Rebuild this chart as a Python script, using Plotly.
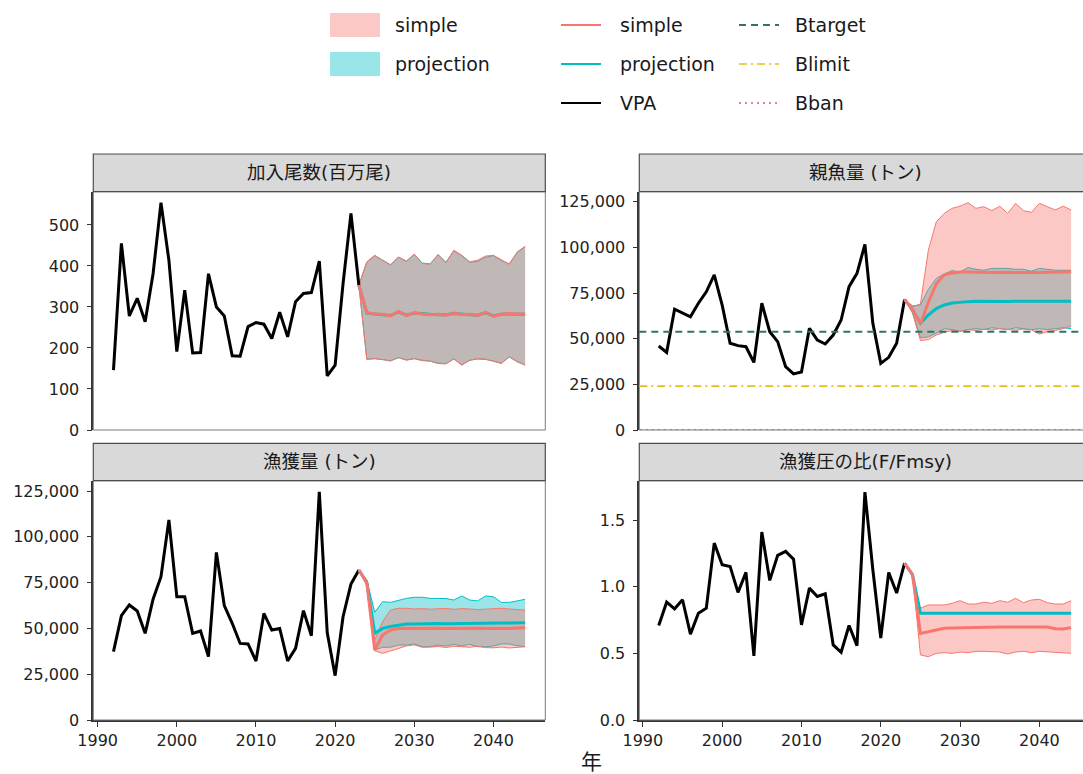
import plotly.graph_objects as go

# ---------------- data ----------------
YEARS_VPA = list(range(1992, 2024))
YEARS_PROJ = list(range(2023, 2045))

REC_VPA = [146, 455, 278, 321, 264, 381, 554, 414, 191, 341, 188, 189, 381, 300, 278, 181,
           180, 252, 262, 258, 223, 287, 227, 313, 333, 335, 412, 132, 158, 357, 528, 353]
REC_SIMPLE_MED = [353, 286, 283, 282, 278, 289, 279, 286, 283, 281, 282, 280, 285, 281, 282, 279,
                  287, 277, 282, 284, 283, 283]
REC_SIMPLE_UP = [353, 410, 426, 414, 402, 422, 412, 429, 406, 404, 428, 408, 438, 426, 410, 414,
                 424, 426, 414, 404, 434, 448]
REC_SIMPLE_LO = [353, 172, 174, 172, 168, 177, 170, 174, 169, 168, 162, 161, 174, 158, 170, 174,
                 173, 167, 162, 179, 166, 158]
REC_PROJ_MED = [353, 285, 283, 281, 279, 288, 280, 285, 283, 282, 281, 281, 284, 282, 281, 280,
                286, 278, 282, 283, 283, 282]
REC_PROJ_UP = [353, 409, 425, 413, 403, 421, 411, 428, 407, 405, 427, 409, 437, 425, 409, 411,
               421, 425, 413, 405, 433, 447]
REC_PROJ_LO = [353, 173, 174, 172, 169, 176, 171, 174, 170, 168, 163, 162, 173, 159, 170, 173,
               172, 168, 163, 178, 167, 159]

SSB_VPA = [46000, 42500, 66200, 64200, 62000, 69400, 75700, 84900, 68400, 47500, 46200, 45600,
           37000, 69400, 53800, 48400, 34700, 30700, 31800, 55700, 49300, 47100, 52000, 60200,
           78500, 85800, 101700, 58400, 36500, 39800, 47500, 71500]
SSB_SIMPLE_MED = [71500, 66000, 58000, 70000, 80000, 85000, 86000, 86500, 86500, 86300, 86500,
                  86200, 86400, 86300, 86500, 86400, 86300, 86200, 86400, 86300, 86500, 86700]
SSB_SIMPLE_UP = [71500, 67500, 69000, 98500, 114000, 118600, 121400, 122600, 124500, 121400,
                 122300, 120100, 122600, 118600, 124100, 120100, 119200, 124100, 122300, 120500,
                 122600, 120500]
SSB_SIMPLE_LO = [71500, 64000, 49000, 49500, 52000, 53500, 54500, 54000, 55000, 54500, 55200,
                 54800, 55500, 55000, 54600, 55300, 54800, 52500, 53800, 54500, 55500, 57000]
SSB_PROJ_MED = [71500, 66000, 58500, 63000, 66500, 68500, 69500, 70000, 70300, 70500, 70400,
                70500, 70600, 70400, 70500, 70500, 70300, 70200, 70500, 70300, 70400, 70500]
SSB_PROJ_UP = [71500, 68000, 68500, 77000, 83000, 85500, 87300, 86500, 89000, 88000, 87500,
               88500, 88500, 88500, 88000, 88000, 87000, 88500, 88000, 87500, 87500, 87500]
SSB_PROJ_LO = [71500, 64500, 50500, 51000, 53000, 55500, 55000, 54000, 55000, 55500, 55000,
               56000, 55500, 55000, 56000, 55500, 55000, 55500, 55000, 55500, 56000, 55500]

CATCH_VPA = [37300, 57000, 62800, 59500, 47300, 65900, 78200, 109200, 67300, 67300, 47300, 48600,
             34600, 91500, 62400, 52800, 41800, 41500, 32200, 58200, 49100, 50000, 32200, 39100,
             59700, 46000, 124600, 47700, 24200, 56400, 74200, 81900]
CATCH_SIMPLE_MED = [81900, 75000, 38200, 46400, 49100, 49900, 50000, 50100, 50000, 50200, 50100,
                    50000, 50100, 50200, 50000, 50100, 50000, 49900, 50000, 49900, 50200, 50400]
CATCH_SIMPLE_UP = [81900, 76500, 43700, 53700, 60000, 61000, 61000, 60600, 60800, 60500, 60700,
                   60900, 60400, 60800, 60600, 60300, 60500, 60700, 61000, 60600, 60400, 60000]
CATCH_SIMPLE_LO = [81900, 73500, 37800, 36400, 37700, 39100, 40400, 41000, 39700, 39800, 40100,
                   39600, 40200, 40000, 39700, 40300, 39500, 39400, 39800, 39300, 39600, 40000]
CATCH_PROJ_MED = [81900, 75000, 47300, 50000, 51000, 51900, 52400, 52400, 52600, 52500, 52700,
                  52600, 52700, 52500, 52800, 52600, 52700, 52800, 52900, 52900, 53000, 53100]
CATCH_PROJ_UP = [81900, 76500, 58800, 64600, 64200, 65500, 66400, 67000, 67000, 66400, 66300,
                 66300, 65500, 67700, 65500, 65000, 67700, 67300, 64200, 64200, 65000, 65900]
CATCH_PROJ_LO = [81900, 73500, 38200, 39700, 39700, 40900, 40900, 41500, 40000, 40000, 40900,
                 40400, 41300, 40400, 41300, 40000, 40000, 40400, 41500, 41500, 40600, 40000]

F_VPA = [0.709, 0.884, 0.834, 0.902, 0.644, 0.801, 0.839, 1.327, 1.165, 1.152, 0.957, 1.107,
         0.481, 1.41, 1.047, 1.235, 1.265, 1.207, 0.714, 0.989, 0.927, 0.947, 0.563, 0.508,
         0.709, 0.558, 1.71, 1.127, 0.614, 1.107, 0.952, 1.177]
F_SIMPLE_MED = [1.177, 1.09, 0.650, 0.663, 0.680, 0.688, 0.690, 0.692, 0.693, 0.695, 0.695,
                0.696, 0.697, 0.697, 0.697, 0.698, 0.699, 0.700, 0.698, 0.685, 0.683, 0.693]
F_SIMPLE_UP = [1.177, 1.09, 0.838, 0.863, 0.863, 0.863, 0.875, 0.895, 0.870, 0.870, 0.883,
               0.875, 0.895, 0.883, 0.913, 0.880, 0.900, 0.905, 0.880, 0.870, 0.870, 0.895]
F_SIMPLE_LO = [1.177, 1.09, 0.488, 0.475, 0.500, 0.505, 0.500, 0.510, 0.505, 0.515, 0.515,
               0.515, 0.510, 0.495, 0.510, 0.515, 0.505, 0.515, 0.510, 0.505, 0.500, 0.500]
F_PROJ_MED = [1.177, 1.09, 0.80, 0.80, 0.80, 0.80, 0.80, 0.80, 0.80, 0.80, 0.80,
              0.80, 0.80, 0.80, 0.80, 0.80, 0.80, 0.80, 0.80, 0.80, 0.80, 0.80]
F_PROJ_UP = F_PROJ_MED
F_PROJ_LO = F_PROJ_MED

BTARGET = 53800
BLIMIT = 24000
BBAN = 0

PANEL_TITLES = ["加入尾数(百万尾)", "親魚量 (トン)", "漁獲量 (トン)", "漁獲圧の比(F/Fmsy)"]
X_TICKS = [1990, 2000, 2010, 2020, 2030, 2040]
X_LABEL = "年"
FILL_LEGEND = ["simple", "projection"]
LINE_LEGEND = ["simple", "projection", "VPA"]
REF_LEGEND = ["Btarget", "Blimit", "Bban"]

# ---------------- styling ----------------
W, H = 1083, 774
PINK = "#F8766D"
TEAL = "#00BFC4"
PINK_FILL = "rgba(248,118,109,0.4)"
TEAL_FILL = "rgba(0,191,196,0.4)"
BT_COL = "#2F7565"
BL_COL = "#E2C11C"
BB_COL = "#D9606F"
FONT = "DejaVu Sans, Noto Sans CJK JP, sans-serif"


def px(x):
    return x / W


def py(y):
    return 1 - y / H


LEFT = (93.3, 545.3)
RIGHT = (639.3, 1091.3)
TOP = (191.7, 430.0, 154.0)      # plot top, plot bottom, strip top
BOT = (480.7, 720.0, 443.3)

panels = [
    dict(ax="", cols=LEFT, rows=TOP, xr=[1989.45, 2046.55], yr=[0, 581], dtick=100, fmt="d",
         data=(REC_VPA, REC_SIMPLE_MED, REC_SIMPLE_UP, REC_SIMPLE_LO, REC_PROJ_MED, REC_PROJ_UP, REC_PROJ_LO),
         xlabels=False),
    dict(ax="2", cols=RIGHT, rows=TOP, xr=[1989.55, 2045.5], yr=[0, 130500], dtick=25000, fmt=",",
         data=(SSB_VPA, SSB_SIMPLE_MED, SSB_SIMPLE_UP, SSB_SIMPLE_LO, SSB_PROJ_MED, SSB_PROJ_UP, SSB_PROJ_LO),
         xlabels=False),
    dict(ax="3", cols=LEFT, rows=BOT, xr=[1989.45, 2046.55], yr=[0, 130630], dtick=25000, fmt=",",
         data=(CATCH_VPA, CATCH_SIMPLE_MED, CATCH_SIMPLE_UP, CATCH_SIMPLE_LO, CATCH_PROJ_MED, CATCH_PROJ_UP, CATCH_PROJ_LO),
         xlabels=True),
    dict(ax="4", cols=RIGHT, rows=BOT, xr=[1989.55, 2045.5], yr=[0, 1.795], dtick=0.5, fmt=".1f",
         data=(F_VPA, F_SIMPLE_MED, F_SIMPLE_UP, F_SIMPLE_LO, F_PROJ_MED, F_PROJ_UP, F_PROJ_LO),
         xlabels=True),
]

fig = go.Figure()
shapes = []
annotations = []

for i, p in enumerate(panels):
    xa = "x" + p["ax"]
    ya = "y" + p["ax"]
    vpa, s_med, s_up, s_lo, p_med, p_up, p_lo = p["data"]

    def add(y, **kw):
        fig.add_trace(go.Scatter(x=kw.pop("x", YEARS_PROJ), y=y, xaxis=xa, yaxis=ya,
                                 mode="lines", showlegend=False, hoverinfo="skip", **kw))

    # projection band (drawn first, under the simple band)
    add(p_up, line=dict(color=TEAL, width=1))
    add(p_lo, line=dict(color=TEAL, width=1), fill="tonexty", fillcolor=TEAL_FILL)
    # simple band
    add(s_up, line=dict(color=PINK, width=1))
    add(s_lo, line=dict(color=PINK, width=1), fill="tonexty", fillcolor=PINK_FILL)
    # VPA
    add(vpa, x=YEARS_VPA, line=dict(color="black", width=3))
    # medians
    add(p_med, line=dict(color=TEAL, width=3))
    add(s_med, line=dict(color=PINK, width=3))

    x0, x1 = p["cols"]
    ytop, ybot, stop = p["rows"]
    layout_x = dict(domain=[px(x0), min(1.0, px(x1))], range=p["xr"], anchor=ya,
                    tickvals=X_TICKS, showgrid=False, zeroline=False, automargin=False,
                    showticklabels=p["xlabels"], ticks="outside" if p["xlabels"] else "",
                    ticklen=5, tickwidth=1.3, tickcolor="#333",
                    showline=p["xlabels"], linecolor="#333", linewidth=1.6,
                    tickfont=dict(family=FONT, size=16, color="#222"))
    layout_y = dict(domain=[py(ybot), py(ytop)], range=p["yr"], anchor=xa, dtick=p["dtick"],
                    tick0=0, tickformat=p["fmt"], showgrid=False, zeroline=False, automargin=False,
                    ticks="outside", ticklen=5, tickwidth=1.3, tickcolor="#333",
                    showline=True, linecolor="#333", linewidth=1.6,
                    ticklabelstandoff=4,
                    tickfont=dict(family=FONT, size=16, color="#222"))
    fig.update_layout(**{"xaxis" + p["ax"]: layout_x, "yaxis" + p["ax"]: layout_y})

    # panel border
    shapes.append(dict(type="rect", xref="paper", yref="paper", x0=px(x0), x1=px(x1),
                       y0=py(ybot), y1=py(ytop), line=dict(color="#7A7A7A", width=1),
                       fillcolor="rgba(0,0,0,0)", layer="above"))
    # strip
    shapes.append(dict(type="rect", xref="paper", yref="paper", x0=px(x0), x1=px(x1),
                       y0=py(ytop), y1=py(stop), line=dict(color="#4D4D4D", width=1.2),
                       fillcolor="#D9D9D9", layer="above"))
    annotations.append(dict(xref="paper", yref="paper", x=px((x0 + x1) / 2), y=py((ytop + stop) / 2),
                            text=PANEL_TITLES[i], showarrow=False, xanchor="center", yanchor="middle",
                            font=dict(family=FONT, size=18.5, color="#1A1A1A")))

# reference points (SSB panel)
shapes.append(dict(type="line", xref="x2 domain", yref="y2", x0=0, x1=1, y0=BTARGET, y1=BTARGET,
                   line=dict(color=BT_COL, width=2, dash="7px,5px"), layer="above"))
shapes.append(dict(type="line", xref="x2 domain", yref="y2", x0=0, x1=1, y0=BLIMIT, y1=BLIMIT,
                   line=dict(color=BL_COL, width=1.6, dash="8px,4px,2px,4px"), layer="above"))
shapes.append(dict(type="line", xref="x2 domain", yref="y2", x0=0, x1=1, y0=BBAN, y1=BBAN,
                   line=dict(color=BB_COL, width=1.5, dash="dot"), layer="below"))

# ---------------- manual legend ----------------
LEG_ROWS = [25, 64, 103]
fill_cols = [PINK_FILL, TEAL_FILL]
for k, lab in enumerate(FILL_LEGEND):
    yc = LEG_ROWS[k]
    shapes.append(dict(type="rect", xref="paper", yref="paper", x0=px(330), x1=px(380),
                       y0=py(yc + 12), y1=py(yc - 12), line=dict(width=0), fillcolor=fill_cols[k]))
    annotations.append(dict(xref="paper", yref="paper", x=px(393), y=py(yc), text=lab,
                            showarrow=False, xanchor="left", yanchor="middle",
                            font=dict(family=FONT, size=19, color="#1A1A1A")))
line_cols = [PINK, TEAL, "black"]
for k, lab in enumerate(LINE_LEGEND):
    yc = LEG_ROWS[k]
    shapes.append(dict(type="line", xref="paper", yref="paper", x0=px(561), x1=px(601),
                       y0=py(yc), y1=py(yc), line=dict(color=line_cols[k], width=2)))
    annotations.append(dict(xref="paper", yref="paper", x=px(618), y=py(yc), text=lab,
                            showarrow=False, xanchor="left", yanchor="middle",
                            font=dict(family=FONT, size=19, color="#1A1A1A")))
ref_styles = [(BT_COL, "7px,5px", 2), (BL_COL, "8px,4px,2px,4px", 1.6), (BB_COL, "2px,4px", 1.6)]
for k, lab in enumerate(REF_LEGEND):
    yc = LEG_ROWS[k]
    c, d, w = ref_styles[k]
    shapes.append(dict(type="line", xref="paper", yref="paper", x0=px(739), x1=px(779),
                       y0=py(yc), y1=py(yc), line=dict(color=c, width=w, dash=d)))
    annotations.append(dict(xref="paper", yref="paper", x=px(793), y=py(yc), text=lab,
                            showarrow=False, xanchor="left", yanchor="middle",
                            font=dict(family=FONT, size=19, color="#1A1A1A")))

annotations.append(dict(xref="paper", yref="paper", x=px(591), y=py(762), text=X_LABEL,
                        showarrow=False, xanchor="center", yanchor="middle",
                        font=dict(family=FONT, size=21, color="#1A1A1A")))

fig.update_layout(width=W, height=H, autosize=False, margin=dict(l=0, r=0, t=0, b=0),
                  paper_bgcolor="white", plot_bgcolor="white", showlegend=False,
                  shapes=shapes, annotations=annotations)

fig.write_html("out.html")
